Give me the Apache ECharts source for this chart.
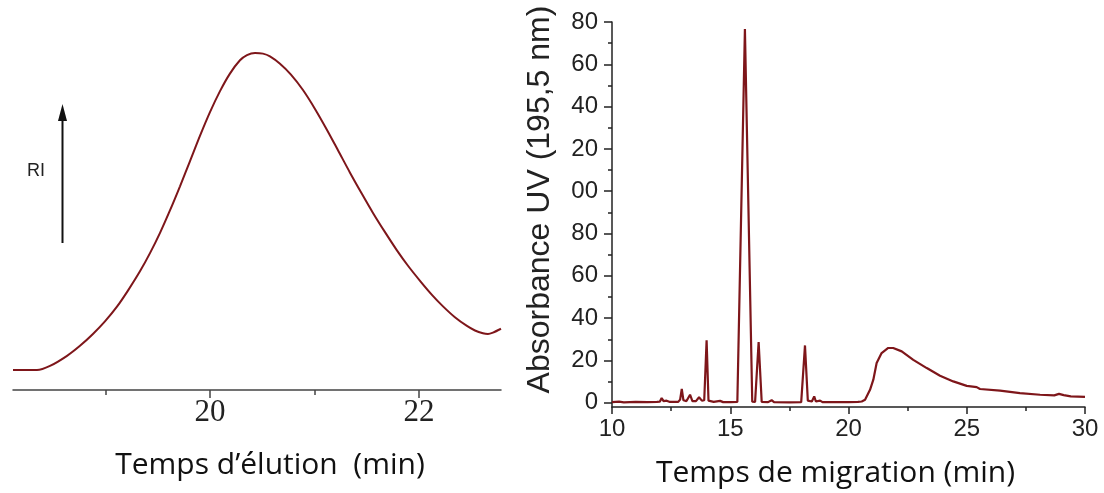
<!DOCTYPE html>
<html><head><meta charset="utf-8">
<script src="https://cdn.jsdelivr.net/npm/echarts@6/dist/echarts.min.js"></script>
<style>html,body{margin:0;padding:0;background:#fff}#c{width:1104px;height:493px}</style>
</head><body><div id="c"></div>
<script>
// Left panel: RI chromatogram (arbitrary units)
const riTime   = [18.115, 18.344, 18.469, 18.632, 18.756, 18.880, 18.995, 19.110, 19.215, 19.330, 19.426, 19.522, 19.617, 19.713, 19.809, 19.904, 20.000, 20.096, 20.191, 20.287, 20.354, 20.431, 20.507, 20.574, 20.670, 20.775, 20.890, 21.005, 21.120, 21.225, 21.340, 21.455, 21.560, 21.675, 21.789, 21.895, 22.010, 22.124, 22.230, 22.344, 22.459, 22.536, 22.612, 22.660, 22.708, 22.785];
const riSignal = [5.71, 5.71, 6.88, 9.77, 12.63, 16.01, 19.61, 23.81, 28.4, 33.9, 39.1, 44.9, 51.3, 58.2, 65.4, 72.6, 79.4, 85.4, 90.4, 94.2, 95.7, 96.3, 96.1, 95.3, 93.2, 90.1, 85.7, 80.3, 74.3, 68.5, 62.1, 56.0, 50.6, 45.1, 39.9, 35.5, 31.2, 27.2, 23.9, 20.8, 18.3, 17.0, 16.2, 16.0, 16.4, 17.5];
const riTickLabels = [20, 22];
const riMinorTicks = [19, 21];

// Right panel: UV absorbance electropherogram
const uvTime = [10.0, 10.3, 10.5, 11.0, 11.5, 11.9, 12.02, 12.1, 12.18, 12.31, 12.45, 12.8, 12.88, 12.95, 13.02, 13.15, 13.3, 13.4, 13.47, 13.55, 13.68, 13.8, 13.9, 14.0, 14.08, 14.3, 14.57, 14.7, 15.0, 15.3, 15.62, 15.93, 16.05, 16.2, 16.33, 16.6, 16.75, 16.85, 17.5, 18.0, 18.05, 18.16, 18.28, 18.45, 18.55, 18.62, 18.8, 18.9, 19.5, 20.0, 20.4, 20.56, 20.7, 20.91, 21.05, 21.19, 21.4, 21.68, 21.89, 22.25, 22.74, 23.31, 23.87, 24.43, 25.0, 25.42, 25.56, 26.41, 27.25, 28.1, 28.7, 28.9, 29.1, 29.4, 30.0];
const uvAbs  = [0.3, 0.5, 0.2, 0.4, 0.3, 0.4, 0.5, 2.2, 0.8, 1.0, 0.4, 0.4, 1.5, 6.5, 1.2, 0.8, 3.8, 0.8, 1.3, 0.8, 2.6, 1.0, 1.2, 29.5, 1.0, 0.4, 0.9, 0.3, 0.3, 0.4, 176.7, 0.5, 0.4, 28.7, 0.4, 0.3, 1.2, 0.3, 0.2, 0.3, 1.0, 27.1, 1.0, 0.6, 3.0, 0.6, 1.0, 0.3, 0.3, 0.3, 0.4, 0.6, 1.4, 6.1, 10.9, 18.8, 23.5, 25.9, 25.9, 24.3, 20.3, 16.4, 12.8, 10.1, 8.0, 7.4, 6.5, 5.7, 4.6, 3.8, 3.5, 4.2, 3.6, 3.0, 2.8];
const uvYTicks = [0, 20, 40, 60, 80, 100, 120, 140, 160, 180];
const uvYMinor = [10, 30, 50, 70, 90, 110, 130, 150, 170];

const zip = (a, b) => a.map((v, i) => [v, b[i]]);
const lineColor = '#7e161a';
const axisDark = '#222';

const chart = echarts.init(document.getElementById('c'), null, {renderer: 'canvas'});
chart.setOption({
  animation: false,
  backgroundColor: '#fff',
  grid: [
    {left: 13, right: 603, top: 40, bottom: 103},
    {left: 612, right: 19, top: 22, bottom: 85}
  ],
  xAxis: [
    {
      gridIndex: 0, type: 'value', min: 18.115, max: 22.785, position: 'bottom',
      axisLine: {show: true, onZero: false, lineStyle: {color: '#444', width: 1.5}},
      axisTick: {show: true, customValues: riTickLabels, length: 8, lineStyle: {color: '#444', width: 1.5}},
      axisLabel: {customValues: riTickLabels, fontFamily: 'Liberation Serif', fontSize: 31, color: '#222', margin: 7},
      splitLine: {show: false},
      name: 'Temps d’élution  (min)', nameLocation: 'middle', nameGap: 60,
      nameTextStyle: {fontFamily: 'Open Sans', fontSize: 30, color: '#111', padding: [0, 0, 0, 26]}
    },
    {
      gridIndex: 0, type: 'value', min: 18.115, max: 22.785, position: 'bottom',
      axisLine: {show: false, onZero: false},
      axisTick: {show: true, customValues: riMinorTicks, length: 5, lineStyle: {color: '#444', width: 1.5}},
      axisLabel: {show: false}, splitLine: {show: false}
    },
    {
      gridIndex: 1, type: 'value', min: 10, max: 30, interval: 5, position: 'bottom',
      axisLine: {show: true, onZero: false, lineStyle: {color: axisDark, width: 1.5}},
      axisTick: {show: true, length: 7, lineStyle: {color: axisDark, width: 1.5}},
      minorTick: {show: true, splitNumber: 2, length: 4, lineStyle: {color: axisDark, width: 1.5}},
      axisLabel: {fontFamily: 'Liberation Sans', fontSize: 24, color: '#222', margin: 10},
      splitLine: {show: false},
      name: 'Temps de migration (min)', nameLocation: 'middle', nameGap: 51,
      nameTextStyle: {fontFamily: 'Open Sans', fontSize: 30, color: '#111', padding: [0, 26, 0, 0]}
    }
  ],
  yAxis: [
    {gridIndex: 0, type: 'value', min: 0, max: 100, show: false},
    {
      gridIndex: 1, type: 'value', min: -2, max: 180, position: 'left',
      axisLine: {show: true, onZero: false, lineStyle: {color: axisDark, width: 1.5}},
      axisTick: {show: true, customValues: uvYTicks, length: 8, lineStyle: {color: axisDark, width: 1.5}},
      axisLabel: {customValues: uvYTicks, fontFamily: 'Liberation Sans', fontSize: 24, color: '#222', margin: 14,
        formatter: v => (v >= 100 ? String(v).slice(1) : String(v))},
      splitLine: {show: false},
      name: 'Absorbance UV (195,5 nm)', nameLocation: 'middle', nameGap: 56,
      nameTextStyle: {fontFamily: 'Liberation Sans', fontSize: 32, color: '#222', padding: [0, 0, 0, 30]}
    },
    {
      gridIndex: 1, type: 'value', min: -2, max: 180, position: 'left',
      axisLine: {show: false, onZero: false},
      axisTick: {show: true, customValues: uvYMinor, length: 4, lineStyle: {color: axisDark, width: 1.5}},
      axisLabel: {show: false}, splitLine: {show: false}
    }
  ],
  series: [
    {
      type: 'line', xAxisIndex: 0, yAxisIndex: 0, data: zip(riTime, riSignal),
      smooth: 0.3, showSymbol: false, lineStyle: {color: lineColor, width: 2}
    },
    {
      type: 'line', xAxisIndex: 2, yAxisIndex: 1, data: zip(uvTime, uvAbs),
      smooth: false, showSymbol: false, lineStyle: {color: lineColor, width: 2.2}
    }
  ],
  graphic: [
    {type: 'line', shape: {x1: 62.5, y1: 243, x2: 62.5, y2: 118}, style: {stroke: '#111', lineWidth: 2}},
    {type: 'polygon', shape: {points: [[62.5, 104], [58, 121], [67, 121]]}, style: {fill: '#111'}},
    {type: 'text', left: 27, top: 162, style: {text: 'RI', fontFamily: 'Liberation Sans', fontSize: 18, fill: '#222'}}
  ]
});
</script>
</body></html>
